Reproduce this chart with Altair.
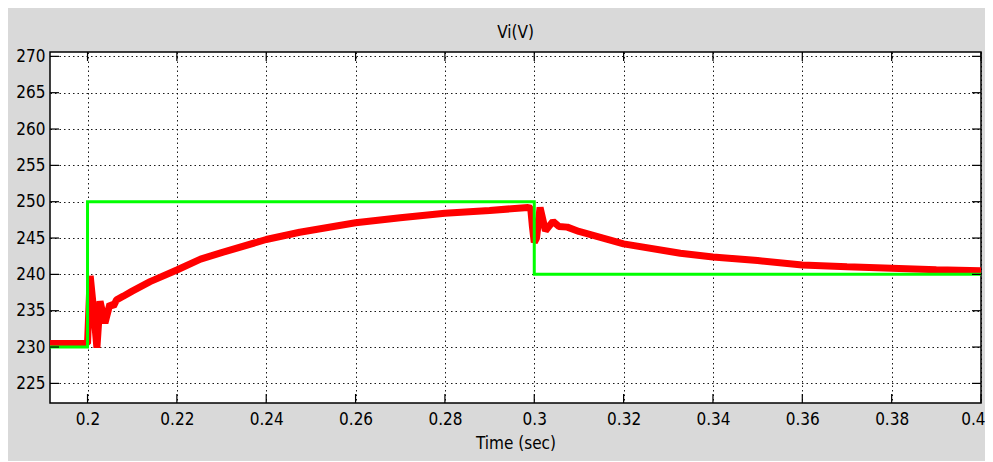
import altair as alt
import pandas as pd

# ---- data ----
red_t = [0.1916, 0.2000, 0.2006, 0.2013, 0.2021, 0.2028, 0.2039, 0.2050, 0.2058, 0.2065,
         0.2080, 0.2100, 0.2140, 0.2200, 0.2253, 0.2300, 0.2400, 0.2475, 0.2600, 0.2700,
         0.2800, 0.2900, 0.2986, 0.2992, 0.2996, 0.3000, 0.3005, 0.3013, 0.3025, 0.3042,
         0.3055, 0.3074, 0.3100, 0.3200, 0.3327, 0.3400, 0.3500, 0.3600, 0.3700, 0.3800,
         0.3900, 0.4000]
red_v = [230.5, 230.5, 239.8, 235.5, 229.9, 236.3, 233.3, 235.9, 235.6, 236.5,
         237.0, 237.7, 239.0, 240.6, 242.1, 243.0, 244.8, 245.8, 247.1, 247.8,
         248.4, 248.8, 249.2, 249.1, 246.5, 244.4, 245.0, 249.2, 246.0, 247.3,
         246.6, 246.5, 245.9, 244.2, 242.9, 242.4, 241.9, 241.3, 241.05, 240.85,
         240.65, 240.5]

green_t = [0.1916, 0.2, 0.2, 0.3, 0.3, 0.4]
green_v = [230, 230, 250, 250, 240, 240]

x_ticks = [0.2, 0.22, 0.24, 0.26, 0.28, 0.3, 0.32, 0.34, 0.36, 0.38, 0.4]
y_ticks = [225, 230, 235, 240, 245, 250, 255, 260, 265, 270]

x_domain = [0.1916, 0.4]
y_domain = [222.3, 270.6]

FONT = "Liberation Sans Narrow, DejaVu Sans Condensed, Arial Narrow, sans-serif"
W, H = 931, 351
TL = 9

red_df = pd.DataFrame({"t": red_t, "v": red_v, "i": range(len(red_t))})
green_df = pd.DataFrame({"t": green_t, "v": green_v, "i": range(len(green_t))})
xt_df = pd.DataFrame({"t": x_ticks})
yt_df = pd.DataFrame({"v": y_ticks})

xscale = alt.Scale(domain=x_domain, nice=False, zero=False)
yscale = alt.Scale(domain=y_domain, nice=False, zero=False)

grid_common = dict(grid=True, gridColor="#000", gridDash=[1.5, 3], gridWidth=1,
                   gridOpacity=0.9, tickSize=0, domain=False,
                   labelFont=FONT, labelFontSize=17, labelColor="#000",
                   titleFont=FONT, titleFontSize=17, titleFontWeight="normal",
                   titleColor="#000")

xaxis = alt.Axis(values=x_ticks, format=".2~f", title="Time (sec)", labelPadding=8,
                 titlePadding=8, labelFlush=1, labelFlushOffset=4, **grid_common)
yaxis = alt.Axis(values=y_ticks, title=None, labelPadding=5, **grid_common)

X = alt.X("t:Q", scale=xscale, axis=xaxis)
Y = alt.Y("v:Q", scale=yscale, axis=yaxis)

red = alt.Chart(red_df).mark_line(color="#ff0000", strokeWidth=7, strokeJoin="bevel",
                                  clip=True).encode(x=X, y=Y, order="i:Q")
green = alt.Chart(green_df).mark_line(color="#00ff00", strokeWidth=3, clip=True).encode(
    x=X, y=Y, order="i:Q")

bt = alt.Chart(xt_df).mark_rule(color="#000", strokeWidth=1.2).encode(
    x=X, y=alt.value(H), y2=alt.value(H - TL))
tt = alt.Chart(xt_df).mark_rule(color="#000", strokeWidth=1.2).encode(
    x=X, y=alt.value(0), y2=alt.value(TL))
lt = alt.Chart(yt_df).mark_rule(color="#000", strokeWidth=1.2).encode(
    y=Y, x=alt.value(0), x2=alt.value(TL))
rt = alt.Chart(yt_df).mark_rule(color="#000", strokeWidth=1.2).encode(
    y=Y, x=alt.value(W), x2=alt.value(W - TL))

chart = alt.layer(red, green, bt, tt, lt, rt).properties(
    width=W, height=H,
    title=alt.TitleParams("Vi(V)", font=FONT, fontSize=17, fontWeight="normal",
                          color="#000", offset=5),
    background="#d9d9d9",
    padding={"left": 42, "top": 44, "right": 4, "bottom": 58},
    autosize=alt.AutoSizeParams(type="none"),
).configure_view(fill="white", stroke="#000", strokeWidth=1.5)

chart.save("out.html", embed_options={"renderer": "svg", "actions": False})
